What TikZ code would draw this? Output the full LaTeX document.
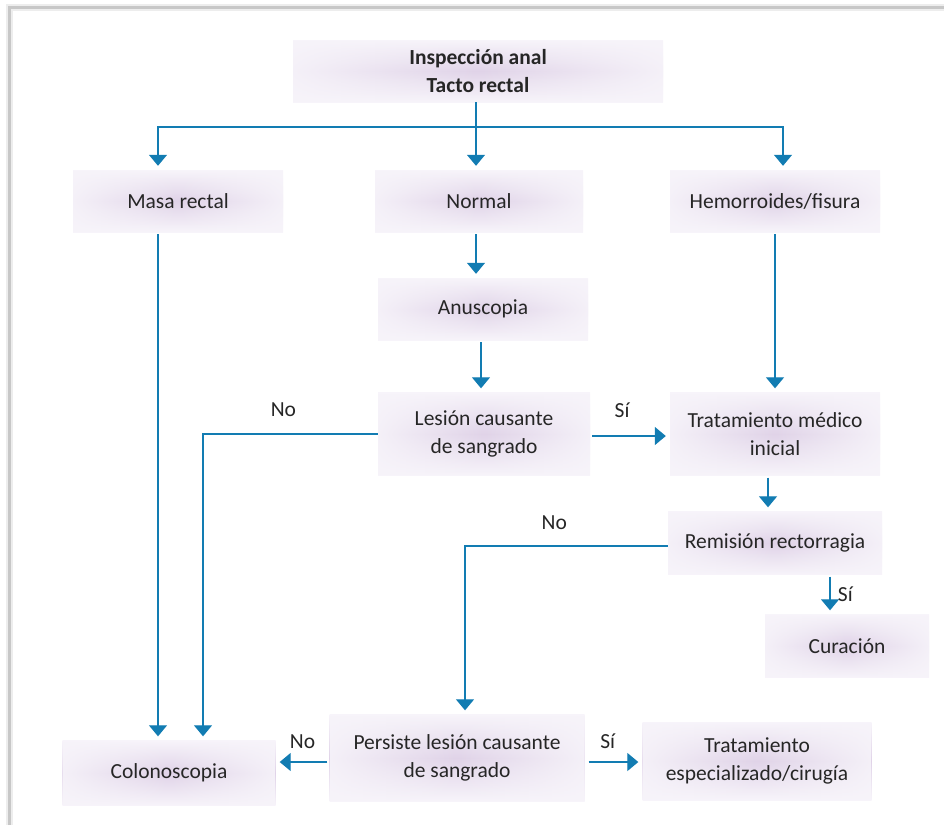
\documentclass[tikz,border=0pt]{standalone}
\usepackage{fontspec}
\setmainfont{Carlito}
\usetikzlibrary{arrows.meta, positioning, fadings}

\definecolor{boxmid}{RGB}{224,211,232}
\definecolor{boxedge}{RGB}{247,244,250}
\definecolor{flowblue}{RGB}{18,124,178}
\definecolor{txtgray}{RGB}{38,38,38}

\tikzfading[name=sides, left color=transparent!10, right color=transparent!10, middle color=transparent!100]

\begin{document}
\begin{tikzpicture}[x=1pt, y=-1pt,
	box/.style={shading=axis, top color=boxedge, bottom color=boxedge, middle color=boxmid,
		path picture={\fill[boxedge, path fading=sides] (path picture bounding box.south west) rectangle (path picture bounding box.north east);},
		minimum width=210pt, minimum height=62pt, align=center, inner sep=2pt,
		text=txtgray, font=\fontsize{21.5}{28}\selectfont},
	link/.style={draw=flowblue, line width=1.3pt},
	flow/.style={link, -{Triangle[width=18pt,length=11pt]}, shorten >=4pt},
	lbl/.style={text=txtgray, font=\fontsize{21.5}{26}\selectfont}]
	
	\useasboundingbox (0,0) rectangle (944,825);
	% frame
	\draw[line width=7pt, black!7] (9,825) -- (9,7) -- (944,7);
	\draw[line width=3pt, black!22] (9,825) -- (9,7) -- (944,7);
	
	\node[box, minimum width=370pt, font=\bfseries\fontsize{21.5}{28}\selectfont] (insp) at (478,71) {Inspección anal\\Tacto rectal};
	
	\node[box] (masa) 	at (178,201) 	{Masa rectal};
	\node[box, minimum width=208pt] (normal) at (479,201) {Normal};
	\node[box] (hemo) 	at (775,201) 	{Hemorroides/fisura};
	
	\node[box] (anus) 	at (483,309) 	{Anuscopia};
	\node[box, minimum width=212pt, minimum height=83pt] (lesion) at (484,434) {Lesión causante\\de sangrado};
	\node[box, minimum height=83pt] (tratmed) at (775,434) {Tratamiento médico\\inicial};
	\node[box, minimum width=214pt, minimum height=63pt] (remision) at (775,543) {Remisión rectorragia};
	\node[box, minimum width=164pt, minimum height=63pt] (curacion) at (847,646) {Curación};
	
	\node[box, minimum width=213pt, minimum height=65pt] (colono) at (169,773) {Colonoscopia};
	\node[box, minimum width=255pt, minimum height=87pt] (persiste) at (457,758) {Persiste lesión causante\\de sangrado};
	\node[box, minimum width=229pt, minimum height=78pt] (tratesp) at (757,761) {Tratamiento\\especializado/cirugía};
	
	% connectors
	\coordinate (split) at (476,127);
	\draw[link] ([xshift=-2pt]insp.south) -- (split);
	\draw[flow] (split) -| ([xshift=-20pt]masa.north);
	\draw[flow] (split) -- (split |- normal.north);
	\draw[flow] (split) -| ([xshift=8pt]hemo.north);
	
	\draw[flow, shorten <=2pt] ([xshift=-20pt]masa.south) -- ([xshift=-20pt]masa.south |- colono.north);
	\draw[flow, shorten <=2pt] ([xshift=-3pt]normal.south) -- ([xshift=-3pt]normal.south |- anus.north);
	\draw[flow, shorten <=2pt] ([xshift=-2pt]anus.south) -- ([xshift=-2pt]anus.south |- lesion.north);
	
	\draw[flow] (lesion.west) -| node[lbl, pos=0.27, above=13pt] {No} ([xshift=34pt]colono.north);
	\draw[flow, shorten <=2pt] ([yshift=-2pt]lesion.east) -- node[lbl, pos=0.4, above=14pt] {Sí} ([yshift=-2pt]lesion.east -| tratmed.west);
	
	\draw[flow, shorten <=2pt] (hemo.south) -- (tratmed.north);
	\draw[flow, shorten <=2pt] ([xshift=-7pt]tratmed.south) -- ([xshift=-7pt]tratmed.south |- remision.north);
	
	\draw[flow] ([yshift=-3pt]remision.west) -| node[lbl, pos=0.28, above=12pt] {No} ([xshift=8pt]persiste.north);
	\draw[flow, shorten <=2pt] ([xshift=55pt]remision.south) -- node[lbl, right=4pt] {Sí} ([xshift=55pt]remision.south |- curacion.north);
	
	\draw[flow, shorten <=2pt] ([yshift=-4pt]persiste.west) -- node[lbl, above=9pt] {No} ([yshift=-4pt]persiste.west -| colono.east);
	\draw[flow, shorten <=4pt] ([yshift=-4pt]persiste.east) -- node[lbl, pos=0.4, above=9pt] {Sí} ([yshift=-4pt]persiste.east -| tratesp.west);
	
\end{tikzpicture}
\end{document}
